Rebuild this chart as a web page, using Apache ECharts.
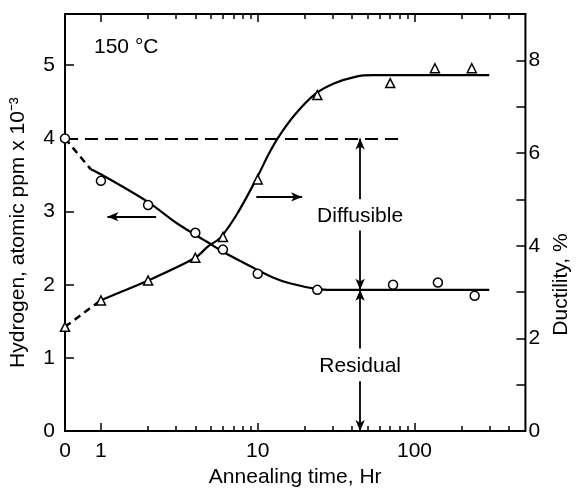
<!DOCTYPE html>
<html>
<head>
<meta charset="utf-8">
<script src="https://cdn.jsdelivr.net/npm/echarts@6/dist/echarts.min.js"></script>
<style>
  html, body { margin: 0; padding: 0; background: #fff; }
  #chart { width: 580px; height: 493px; }
</style>
</head>
<body>
<div id="chart"></div>
<script>
// "0 Hr" sits on the broken left end of the log time axis
var ZERO_T = 0.59;

// measured points
var hydrogenTime = [ZERO_T, 1, 2, 4, 6, 10, 24, 73, 141, 242];
var hydrogenPpm = [4.0, 3.42, 3.09, 2.71, 2.48, 2.15, 1.93, 2.0, 2.03, 1.85];
var ductilityTime = [ZERO_T, 1, 2, 4, 6, 10, 24, 70, 135, 232];
var ductilityPct = [2.25, 2.82, 3.25, 3.74, 4.19, 5.43, 7.25, 7.51, 7.83, 7.83];

// hand drawn fit curves
var hydrogenDashT = [ZERO_T, 0.86];
var hydrogenDashV = [4.0, 3.58];
var hydrogenFitT = [0.86, 1, 2, 3.1, 4.8, 6, 9.8, 12.5, 16, 24, 30, 300];
var hydrogenFitV = [3.58, 3.51, 3.13, 2.83, 2.58, 2.45, 2.21, 2.10, 2.02, 1.94, 1.93, 1.93];
var ductilityDashT = [ZERO_T, 0.96];
var ductilityDashV = [2.25, 2.78];
var ductilityFitT = [0.96, 1, 2, 4, 4.8, 5.8, 7.4, 9.8, 11.8, 13.6, 17.3, 23, 30.6, 42.5, 54, 300];
var ductilityFitV = [2.78, 2.82, 3.25, 3.74, 3.98, 4.18, 4.69, 5.44, 5.99, 6.35, 6.83, 7.26, 7.5, 7.65, 7.68, 7.68];

// axis ticks
var majorTicks = [1, 10, 100];
var minorTicks = [2, 3, 4, 5, 6, 7, 8, 9, 20, 30, 40, 50, 60, 70, 80, 90, 200, 300, 400];
var timeLabels = [ZERO_T, 1, 10, 100];

// annotations
var initialLevel = 4.0, residualLevel = 1.93, splitTime = 45;
var notes = [
    [1.45, 5.25, '150 °C'],
    [splitTime, 2.93, 'Diffusible'],
    [splitTime, 0.89, 'Residual']
];

function pairs(xs, ys) {
    return xs.map(function (x, i) { return [x, ys[i]]; });
}

var FONT = '"Liberation Sans", Arial, sans-serif';
var INK = '#000';

function timeAxis(pos, ticks, len) {
    return {
        type: 'log', min: ZERO_T, max: 510, position: pos,
        axisLine: { show: false },
        splitLine: { show: false },
        axisTick: { inside: true, length: len, customValues: ticks, lineStyle: { color: INK, width: 1.5 } },
        axisLabel: { show: false }
    };
}

var chart = echarts.init(document.getElementById('chart'));

var xMain = timeAxis('bottom', majorTicks, 8);
xMain.axisLabel = {
    show: true, customValues: timeLabels, margin: 10,
    color: INK, fontFamily: FONT, fontSize: 21,
    formatter: function (v) { return v < 0.9 ? '0' : String(Math.round(v)); }
};
xMain.name = 'Annealing time, Hr';
xMain.nameLocation = 'middle';
xMain.nameGap = 32;
xMain.nameTextStyle = { color: INK, fontFamily: FONT, fontSize: 21 };

var arrow = function (from, to) {
    return [
        { coord: from, symbol: 'none' },
        { coord: to, symbol: 'arrow', symbolSize: [7, 11] }
    ];
};

chart.setOption({
    animation: false,
    grid: { left: 63, right: 43, top: 14, bottom: 60, show: true, borderColor: INK, borderWidth: 2 },
    xAxis: [
        xMain,
        timeAxis('bottom', minorTicks, 5),
        timeAxis('top', majorTicks, 8),
        timeAxis('top', minorTicks, 5)
    ],
    yAxis: [{
        type: 'value', min: 0, max: 5.7, interval: 1, position: 'left',
        axisLine: { show: false },
        splitLine: { show: false },
        axisTick: { inside: true, length: 9, lineStyle: { color: INK, width: 1.5 } },
        axisLabel: {
            margin: 10, color: INK, fontFamily: FONT, fontSize: 21,
            formatter: function (v) { return v % 1 === 0 ? String(v) : ''; }
        },
        name: 'Hydrogen, atomic ppm x 10\u207B\u00B3',
        nameLocation: 'middle', nameRotate: 90, nameGap: 36,
        nameTextStyle: { color: INK, fontFamily: FONT, fontSize: 21, padding: [0, 20, 0, 0] }
    }, {
        type: 'value', min: 0, max: 9, interval: 1, position: 'right',
        axisLine: { show: false },
        splitLine: { show: false },
        axisTick: { inside: true, length: 9, lineStyle: { color: INK, width: 1.5 } },
        axisLabel: {
            margin: 3, color: INK, fontFamily: FONT, fontSize: 21,
            formatter: function (v) { return v % 2 === 0 && v < 9 ? String(v) : ''; }
        },
        name: 'Ductility, %',
        nameLocation: 'middle', nameRotate: 90, nameGap: 18,
        nameTextStyle: { color: INK, fontFamily: FONT, fontSize: 21, padding: [0, 124, 0, 0] }
    }],
    series: [{
        name: 'hydrogen dash', type: 'line', yAxisIndex: 0, showSymbol: false,
        data: pairs(hydrogenDashT, hydrogenDashV),
        lineStyle: { color: INK, width: 2.5, type: [7, 5] },
        markLine: {
            silent: true, label: { show: false },
            lineStyle: { color: INK, width: 1.8, type: 'solid' },
            data: [
                [{ coord: [ZERO_T, initialLevel], symbol: 'none', lineStyle: { type: [13, 7], width: 2 } },
                 { coord: [81, initialLevel], symbol: 'none' }],
                arrow([splitTime, 3.17], [splitTime, initialLevel]),
                arrow([splitTime, 2.74], [splitTime, residualLevel]),
                arrow([splitTime, 1.13], [splitTime, residualLevel]),
                arrow([splitTime, 0.68], [splitTime, 0]),
                arrow([2.25, 2.93], [1.1, 2.93]),
                arrow([9.8, 3.2], [19.2, 3.2])
            ]
        }
    }, {
        name: 'hydrogen fit', type: 'line', yAxisIndex: 0, showSymbol: false, smooth: 0.3,
        data: pairs(hydrogenFitT, hydrogenFitV),
        lineStyle: { color: INK, width: 2.2 }
    }, {
        name: 'ductility dash', type: 'line', yAxisIndex: 1, showSymbol: false,
        data: pairs(ductilityDashT, ductilityDashV),
        lineStyle: { color: INK, width: 2.5, type: [7, 5] }
    }, {
        name: 'ductility fit', type: 'line', yAxisIndex: 1, showSymbol: false, smooth: 0.3,
        data: pairs(ductilityFitT, ductilityFitV),
        lineStyle: { color: INK, width: 2.2 }
    }, {
        name: 'Hydrogen', type: 'scatter', yAxisIndex: 0, z: 5,
        symbol: 'circle', symbolSize: 9,
        itemStyle: { color: '#fff', borderColor: INK, borderWidth: 1.5, opacity: 1 },
        data: pairs(hydrogenTime, hydrogenPpm)
    }, {
        name: 'Ductility', type: 'scatter', yAxisIndex: 1, z: 5,
        symbol: 'triangle', symbolSize: 9,
        itemStyle: { color: '#fff', borderColor: INK, borderWidth: 1.5, opacity: 1 },
        data: pairs(ductilityTime, ductilityPct)
    }, {
        name: 'notes', type: 'scatter', yAxisIndex: 0, symbolSize: 0, silent: true,
        itemStyle: { opacity: 1 },
        data: notes,
        label: {
            show: true, position: 'inside', color: INK, fontFamily: FONT, fontSize: 21,
            textBorderWidth: 0, backgroundColor: '#fff', padding: [2, 2],
            formatter: function (p) { return p.data[2]; }
        }
    }]
});
</script>
</body>
</html>
